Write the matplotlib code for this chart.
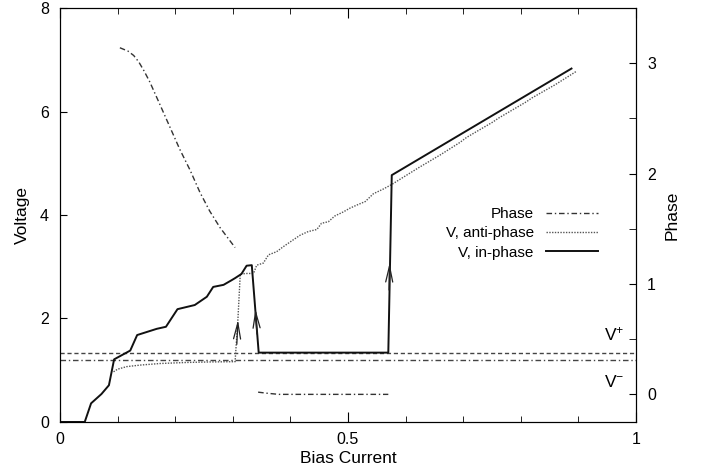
import numpy as np
import matplotlib
matplotlib.use('Agg')
from matplotlib import pyplot as plt
from matplotlib.ticker import MultipleLocator

plt.rcParams['font.family'] = ['Liberation Sans', 'DejaVu Sans']
plt.rcParams['mathtext.default'] = 'regular'
plt.rcParams['font.size'] = 11.5

# V, in-phase (solid)
inphase_x = [0, 0.043, 0.054, 0.072, 0.085, 0.094, 0.122, 0.134, 0.168, 0.184, 0.204,
             0.234, 0.255, 0.266, 0.284, 0.298, 0.304, 0.315, 0.324, 0.333, 0.345,
             0.570, 0.576, 0.888]
inphase_v = [0, 0, 0.36, 0.54, 0.71, 1.21, 1.38, 1.68, 1.80, 1.84, 2.18,
             2.26, 2.42, 2.61, 2.65, 2.74, 2.78, 2.86, 3.02, 3.03, 1.34,
             1.34, 4.77, 6.83]

# V, anti-phase (dotted)
anti_x = [0.093, 0.10, 0.116, 0.14, 0.174, 0.22, 0.26, 0.304, 0.309, 0.313, 0.325,
          0.336, 0.3415, 0.353, 0.362, 0.376, 0.388, 0.405, 0.417, 0.431, 0.446,
          0.454, 0.466, 0.477, 0.492, 0.503, 0.515, 0.530, 0.544, 0.561, 0.576,
          0.596, 0.625, 0.66, 0.694, 0.706, 0.752, 0.761, 0.810, 0.819, 0.860, 0.897]
anti_v = [0.97, 1.02, 1.07, 1.10, 1.13, 1.15, 1.16, 1.165, 2.0, 2.86, 2.87,
          2.87, 3.03, 3.07, 3.23, 3.29, 3.39, 3.52, 3.61, 3.68, 3.72,
          3.84, 3.87, 3.98, 4.06, 4.13, 4.19, 4.26, 4.41, 4.50, 4.59,
          4.73, 4.93, 5.16, 5.40, 5.50, 5.80, 5.87, 6.19, 6.26, 6.52, 6.78]

# phase (right axis), two branches
phase_x1 = [0.104, 0.118, 0.128, 0.137, 0.146, 0.156, 0.174, 0.191, 0.208, 0.226,
            0.243, 0.260, 0.278, 0.304]
phase_y1 = [3.14, 3.11, 3.07, 3.01, 2.93, 2.83, 2.62, 2.42, 2.22, 2.03,
            1.83, 1.66, 1.51, 1.33]
phase_x2 = [0.344, 0.36, 0.38, 0.45, 0.57]
phase_y2 = [0.02, 0.01, 0.0, 0.0, 0.0]

v_plus = 1.335
v_minus = 1.2

# arrows on the jumps: (x tail, v tail, x tip, v tip)
arrows = [(0.307, 1.50, 0.309, 1.97),
          (0.342, 1.70, 0.3393, 2.18),
          (0.5713, 2.55, 0.5722, 3.07)]

dashdot = (0, (4, 2, 1, 2))

fig = plt.figure(figsize=(7.08, 4.72), dpi=100)
ax = fig.add_axes([0.0847, 0.106, 0.8136, 0.877])
ax2 = ax.twinx()

ax.axhline(v_plus, color='#444444', lw=1.0, ls=(0, (3, 2)))
ax.axhline(v_minus, color='#444444', lw=1.0, ls=dashdot)

ax.plot(anti_x, anti_v, color='#555555', lw=1.0, ls=(0, (1, 1)), label='V, anti-phase')
ax.plot(inphase_x, inphase_v, color='#111111', lw=1.4, label='V, in-phase')
ax2.plot(phase_x1, phase_y1, color='#333333', lw=1.0, ls=dashdot)
ax2.plot(phase_x2, phase_y2, color='#333333', lw=1.0, ls=dashdot)

for x0, y0, x1, y1 in arrows:
    ax.annotate('', xy=(x1, y1), xytext=(x0, y0),
                arrowprops=dict(arrowstyle='->,head_length=1.0,head_width=0.22',
                                color='#222222', lw=0.9, shrinkA=0, shrinkB=0))

ax.text(0.945, v_plus + 0.35, 'V$^{+}$', ha='left', va='center', fontsize=12.5,
        transform=ax.get_yaxis_transform())
ax.text(0.945, v_minus - 0.42, 'V$^{-}$', ha='left', va='center', fontsize=12.5,
        transform=ax.get_yaxis_transform())

ax.set_xlim(0, 1)
ax.set_ylim(0, 8)
ax2.set_ylim(-0.25, 3.5)

ax.xaxis.set_minor_locator(MultipleLocator(0.1))
ax.set_xticks([0, 0.5, 1])
ax.set_xticklabels(['0', '0.5', '1'])
ax.yaxis.set_major_locator(MultipleLocator(2))
ax2.yaxis.set_major_locator(MultipleLocator(1))
ax2.yaxis.set_minor_locator(MultipleLocator(0.5))

ax.tick_params(axis='x', which='both', direction='in', top=True, bottom=True, pad=7)
ax.tick_params(axis='x', which='major', length=7)
ax.tick_params(axis='x', which='minor', length=4)
ax.tick_params(axis='y', which='major', direction='in', length=5, right=False, pad=8)
ax2.tick_params(axis='y', which='both', direction='in', length=5, pad=8)

ax.set_xlabel('Bias Current', fontsize=12.5, labelpad=3)
ax.set_ylabel('Voltage', fontsize=12.5, labelpad=7)
ax2.set_ylabel('Phase', fontsize=12.5, labelpad=6)

# legend handles: phase line first
h_phase, = ax.plot([], [], color='#333333', lw=1.0, ls=dashdot, label='Phase')
handles = [h_phase] + ax.get_legend_handles_labels()[0][:2]
leg = ax.legend(handles=handles, labels=['Phase', 'V, anti-phase', 'V, in-phase'],
                loc='center right', bbox_to_anchor=(0.934, 0.456), frameon=False,
                markerfirst=False, borderaxespad=0, borderpad=0, fontsize=11,
                handlelength=3.4, handletextpad=0.8, labelspacing=0.35)

fig.savefig('out.png', dpi=100)
